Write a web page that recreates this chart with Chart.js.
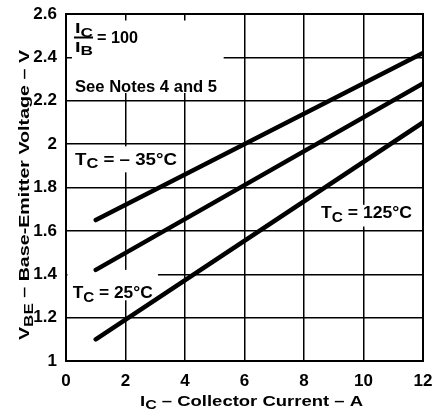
<!DOCTYPE html>
<html>
<head>
<meta charset="utf-8">
<script src="https://cdn.jsdelivr.net/npm/chart.js@4.4.1/dist/chart.umd.min.js"></script>
<style>
html,body{margin:0;padding:0;background:#fff;}
#wrap{width:434px;height:415px;position:relative;}
</style>
</head>
<body>
<div id="wrap"><canvas id="c" width="434" height="415"></canvas></div>
<script>
const currentA = [1, 12];
const vbeMinus35 = [1.65, 2.42];
const vbe25 = [1.42, 2.28];
const vbe125 = [1.10, 2.10];
const xTicks = [0, 2, 4, 6, 8, 10, 12];
const yTicks = [1, 1.2, 1.4, 1.6, 1.8, 2, 2.2, 2.4, 2.6];
const seriesNames = ['TC = – 35°C', 'TC = 25°C', 'TC = 125°C'];

const FONT = '"Liberation Sans", Arial, Helvetica, sans-serif';

function pts(ys){ return currentA.map((x,i)=>({x:x, y:ys[i]})); }

function richWidth(ctx, parts, size){
  let w = 0;
  parts.forEach(p=>{
    ctx.font = 'bold ' + (p.sub ? size-2 : size) + 'px ' + FONT;
    w += ctx.measureText(p.t).width;
  });
  return w;
}
// draw parts [{t, sub}] from left x, baseline y, stretched horizontally to width w
function drawRich(ctx, parts, x, y, size, w){
  const nat = richWidth(ctx, parts, size);
  const sx = w ? w / nat : 1;
  ctx.save();
  ctx.translate(x, y);
  ctx.scale(sx, 1);
  ctx.textAlign = 'left';
  ctx.textBaseline = 'alphabetic';
  ctx.fillStyle = '#000';
  let cx = 0;
  parts.forEach(p=>{
    ctx.font = 'bold ' + (p.sub ? size-2 : size) + 'px ' + FONT;
    ctx.fillText(p.t, cx, p.sub ? 3.5 : 0);
    cx += ctx.measureText(p.t).width;
  });
  ctx.restore();
}

const annot = {
  id: 'annot',
  beforeDatasetsDraw(chart){
    const ctx = chart.ctx, xs = chart.scales.x, ys = chart.scales.y;
    const X = v=>xs.getPixelForValue(v), Y = v=>ys.getPixelForValue(v);
    ctx.save();
    ctx.fillStyle = '#fff';
    const boxes = [
      [0.2, 2.57, 5.3, 2.236],
      [0.13, 1.99, 3.83, 1.87],
      [0.05, 1.42, 3.09, 1.28],
      [8.47, 1.72, 11.9, 1.62]
    ];
    boxes.forEach(b=>{
      ctx.fillRect(X(b[0]), Y(b[1]), X(b[2])-X(b[0]), Y(b[3])-Y(b[1]));
    });
    // fraction IC/IB = 100
    drawRich(ctx, [{t:'I'},{t:'C',sub:true}], X(0.303), Y(2.512), 15, 18);
    drawRich(ctx, [{t:'I'},{t:'B',sub:true}], X(0.303), Y(2.425), 15, 18);
    ctx.fillStyle = '#000';
    ctx.fillRect(X(0.269), Y(2.4916)-1, X(0.908)-X(0.269), 2);
    drawRich(ctx, [{t:'= 100'}], X(1.042), Y(2.466), 16, 41);
    drawRich(ctx, [{t:'See Notes 4 and 5'}], X(0.303), Y(2.24), 16, 142);
    drawRich(ctx, [{t:'T'},{t:'C',sub:true},{t:' = – 35°C'}], X(0.303), Y(1.904), 16, 102);
    drawRich(ctx, [{t:'T'},{t:'C',sub:true},{t:' = 25°C'}], X(0.225), Y(1.29), 16, 80);
    drawRich(ctx, [{t:'T'},{t:'C',sub:true},{t:' = 125°C'}], X(8.571), Y(1.659), 16, 91);
    ctx.restore();
  },
  afterDraw(chart){
    const ctx = chart.ctx, a = chart.chartArea;
    ctx.save();
    ctx.strokeStyle = '#000';
    ctx.lineWidth = 2;
    ctx.strokeRect(a.left, a.top, a.right-a.left, a.bottom-a.top);
    // x axis title
    drawRich(ctx, [{t:'I'},{t:'C',sub:true},{t:' – Collector Current – A'}], 140, 405.5, 15, 223);
    // y axis title
    ctx.translate(29, 340);
    ctx.rotate(-Math.PI/2);
    drawRich(ctx, [{t:'V'},{t:'BE',sub:true},{t:' – Base-Emitter Voltage – V'}], 0, 0, 15, 290);
    ctx.restore();
  }
};

const lineStyle = {borderColor:'#000', borderWidth:4.5, pointRadius:0, fill:false, tension:0, borderCapStyle:'round'};

new Chart(document.getElementById('c'), {
  type: 'scatter',
  data: {
    datasets: [
      Object.assign({label: seriesNames[0], data: pts(vbeMinus35), showLine:true}, lineStyle),
      Object.assign({label: seriesNames[1], data: pts(vbe25), showLine:true}, lineStyle),
      Object.assign({label: seriesNames[2], data: pts(vbe125), showLine:true}, lineStyle)
    ]
  },
  options: {
    responsive: false,
    animation: false,
    layout: {padding: {left: 0, top: 14, right: 11, bottom: 0}},
    plugins: {legend: {display:false}, tooltip: {enabled:false}},
    scales: {
      x: {
        type: 'linear', min: 0, max: 12,
        afterBuildTicks: s => { s.ticks = xTicks.map(v=>({value:v})); },
        afterFit: s => { s.height = 54; s.paddingLeft = 0; s.paddingRight = 0; },
        grid: {color:'#000', lineWidth:1.5, drawTicks:false},
        border: {color:'#000', width:2},
        ticks: {color:'#000', padding:10, font:{family:FONT, size:17, weight:'bold'}, callback: v => String(v), maxRotation:0}
      },
      y: {
        type: 'linear', min: 1, max: 2.6,
        afterBuildTicks: s => { s.ticks = yTicks.map(v=>({value:v})); },
        afterFit: s => { s.width = 66; s.paddingTop = 0; s.paddingBottom = 0; },
        grid: {color:'#000', lineWidth:1.5, drawTicks:false},
        border: {color:'#000', width:2},
        ticks: {color:'#000', padding:9, font:{family:FONT, size:17, weight:'bold'}, callback: v => String(v)}
      }
    }
  },
  plugins: [annot]
});
</script>
</body>
</html>
